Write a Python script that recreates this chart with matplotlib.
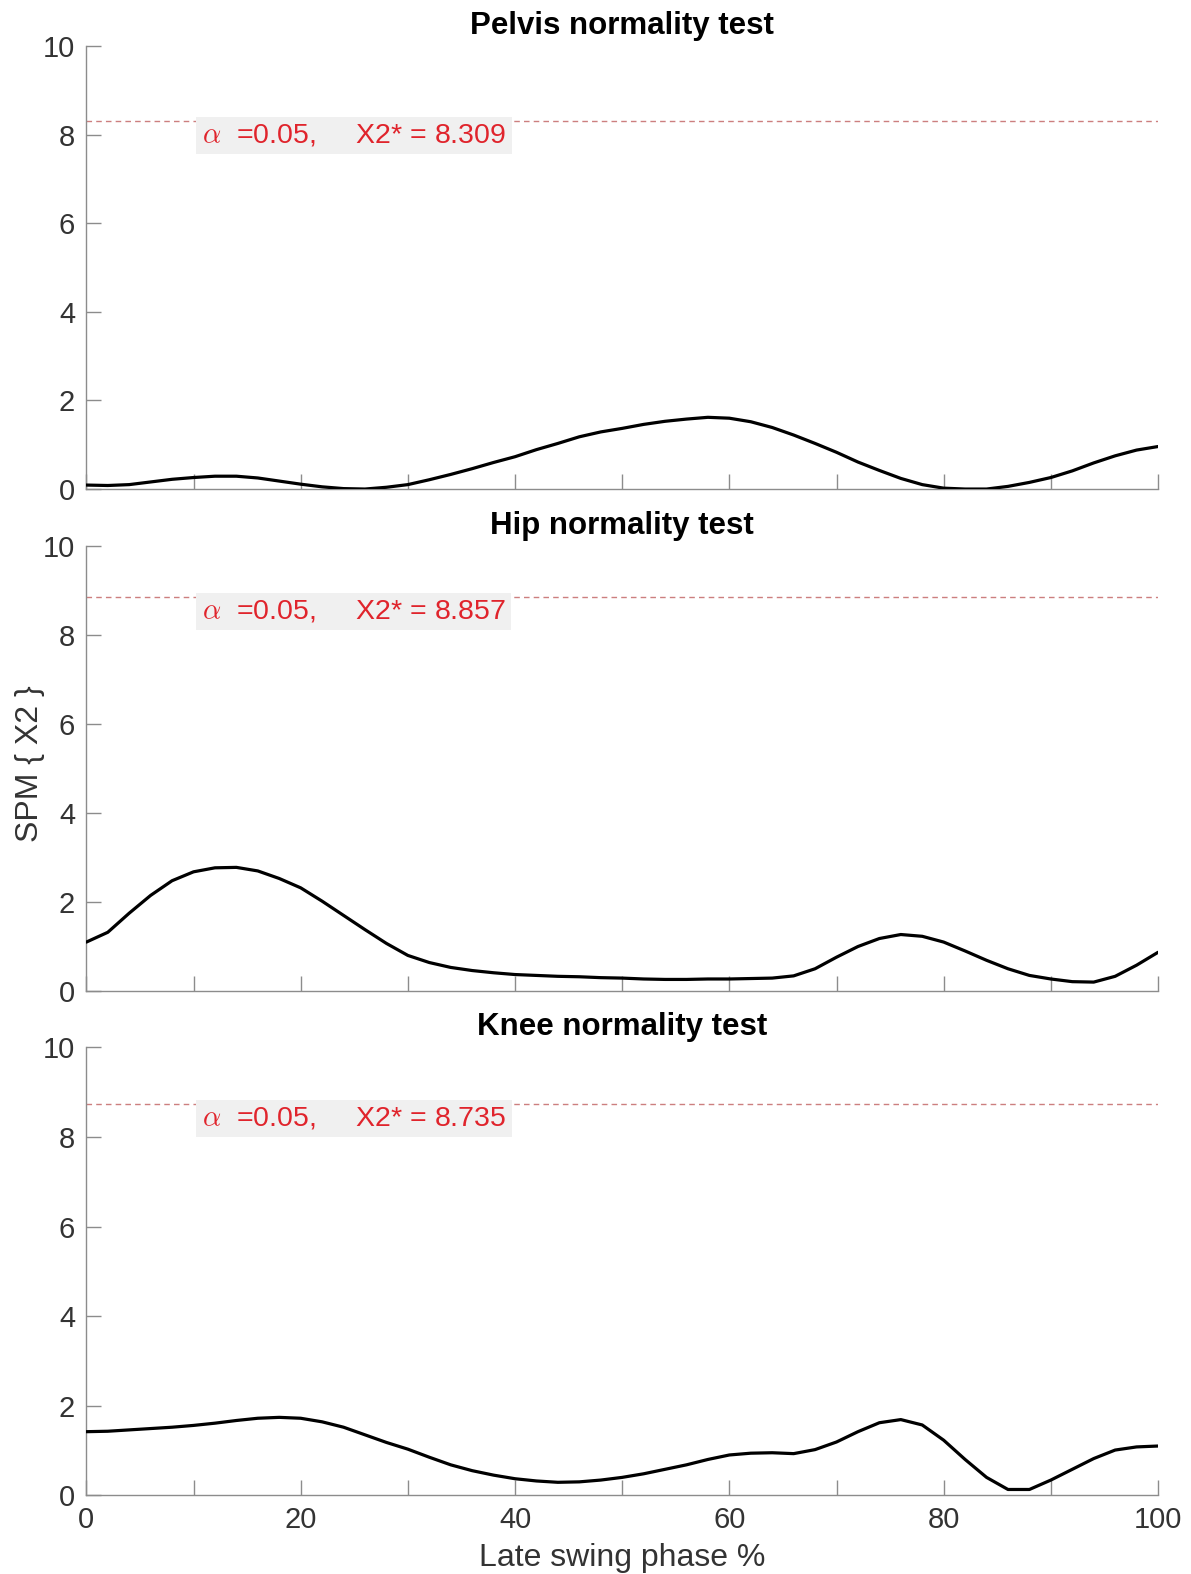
import matplotlib
matplotlib.use("Agg")
import matplotlib.pyplot as plt
import numpy as np

plt.rcParams["font.family"] = ["Liberation Sans", "DejaVu Sans"]
plt.rcParams["mathtext.fontset"] = "cm"

# normalised time axis (% of late swing phase)
phase = np.arange(0, 101, 2)

pelvis = [0.09, 0.08, 0.10, 0.16, 0.22, 0.26, 0.29, 0.29, 0.25, 0.18,
          0.11, 0.05, 0.01, 0.00, 0.04, 0.10, 0.21, 0.33, 0.46, 0.60,
          0.73, 0.89, 1.03, 1.18, 1.29, 1.37, 1.46, 1.53, 1.58, 1.62,
          1.60, 1.52, 1.39, 1.22, 1.03, 0.83, 0.61, 0.42, 0.24, 0.10,
          0.02, 0.00, 0.00, 0.06, 0.15, 0.26, 0.41, 0.59, 0.75, 0.88,
          0.96]
hip = [1.10, 1.32, 1.75, 2.15, 2.48, 2.68, 2.77, 2.78, 2.70, 2.53,
       2.32, 2.02, 1.70, 1.38, 1.07, 0.80, 0.64, 0.53, 0.46, 0.41,
       0.37, 0.35, 0.33, 0.32, 0.30, 0.29, 0.27, 0.26, 0.26, 0.27,
       0.27, 0.28, 0.29, 0.34, 0.50, 0.76, 1.00, 1.18, 1.27, 1.23,
       1.10, 0.90, 0.69, 0.50, 0.35, 0.27, 0.21, 0.20, 0.33, 0.58,
       0.87]
knee = [1.42, 1.43, 1.46, 1.49, 1.52, 1.56, 1.61, 1.67, 1.72, 1.74,
        1.72, 1.64, 1.52, 1.35, 1.18, 1.03, 0.85, 0.68, 0.55, 0.45,
        0.37, 0.32, 0.29, 0.30, 0.34, 0.40, 0.48, 0.58, 0.68, 0.80,
        0.90, 0.94, 0.95, 0.93, 1.02, 1.19, 1.42, 1.62, 1.69, 1.57,
        1.23, 0.80, 0.40, 0.13, 0.13, 0.34, 0.58, 0.82, 1.01, 1.08,
        1.10]

titles = ["Pelvis normality test", "Hip normality test", "Knee normality test"]
series = [pelvis, hip, knee]
critical = [8.309, 8.857, 8.735]
alpha = 0.05

# axes boxes in figure fractions: left, bottom, width, height
boxes = [
    [0.0725, 0.6893, 0.8998, 0.2813],
    [0.0725, 0.3704, 0.8998, 0.2825],
    [0.0725, 0.0500, 0.8998, 0.2846],
]

fig = plt.figure(figsize=(11.91, 15.74), dpi=100)

for i, (title, values, thr, box) in enumerate(zip(titles, series, critical, boxes)):
    ax = fig.add_axes(box)
    ax.plot(phase, values, color="black", lw=2.3, zorder=3,
            solid_joinstyle="round", solid_capstyle="round")
    ax.axhline(thr, color="#cc7f7f", lw=1.0, ls=(0, (4, 3)), zorder=1)
    ax.text(10.8, thr - 0.32,
            r"$\alpha$  =%.2f,     X2* = %.3f" % (alpha, thr),
            color="#e0242c", fontsize=20.5, va="center", ha="left", zorder=2,
            bbox=dict(boxstyle="square,pad=0.2", fc="#f0f0f0", ec="none"))

    ax.set_xlim(0, 100)
    ax.set_ylim(0, 10)
    ax.set_xticks(np.arange(0, 101, 10))
    ax.set_yticks(np.arange(0, 11, 2))
    ax.set_title(title, fontsize=22.5, fontweight="bold", pad=9)

    for side in ("top", "right"):
        ax.spines[side].set_visible(False)
    for side in ("left", "bottom"):
        ax.spines[side].set_color("#8c8c8c")
        ax.spines[side].set_linewidth(1.0)
    ax.tick_params(direction="in", length=11, width=1.0, color="#8c8c8c",
                   labelsize=21, labelcolor="#333333", pad=8)

    if i == 2:
        ax.set_xticklabels([str(v) if v % 20 == 0 else "" for v in range(0, 101, 10)])
        ax.set_xlabel("Late swing phase %", fontsize=23, color="#333333", labelpad=6)
    else:
        ax.set_xticklabels([])

fig.text(0.025, 0.5146, "SPM { X2 }", rotation=90, fontsize=23,
         color="#333333", ha="center", va="center")

fig.savefig("out.png", dpi=100)
